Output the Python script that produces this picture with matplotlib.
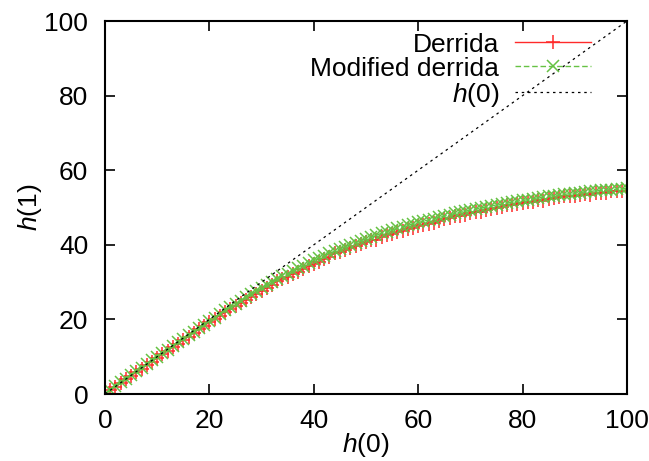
import matplotlib
matplotlib.use("Agg")
import matplotlib.pyplot as plt
import numpy as np

plt.rcParams['font.family'] = ['Liberation Sans', 'DejaVu Sans']
plt.rcParams['mathtext.fontset'] = 'custom'
plt.rcParams['mathtext.rm'] = 'Liberation Sans'
plt.rcParams['mathtext.it'] = 'Liberation Sans:italic'

h0 = list(range(0, 101))
derrida = [0.0, 1.0, 2.0, 2.9, 3.9, 4.9, 5.8, 6.8, 7.8, 8.7,
           9.7, 10.6, 11.6, 12.6, 13.5, 14.5, 15.4, 16.4, 17.3, 18.3,
           19.2, 20.1, 21.0, 21.9, 22.7, 23.6, 24.4, 25.3, 26.1, 26.9,
           27.7, 28.5, 29.3, 30.3, 30.8, 31.5, 32.2, 32.6, 33.6, 34.2,
           34.9, 35.5, 36.2, 36.8, 37.7, 38.0, 38.5, 39.1, 39.6, 40.2,
           40.7, 41.2, 41.4, 42.1, 42.6, 43.0, 43.4, 43.8, 44.2, 44.6,
           45.0, 45.4, 45.7, 45.8, 46.4, 46.8, 47.1, 47.7, 47.8, 48.1,
           48.4, 48.7, 48.7, 49.3, 49.6, 49.9, 50.2, 50.7, 50.7, 50.9,
           51.2, 51.4, 51.6, 51.9, 51.8, 52.3, 52.5, 52.7, 53.2, 53.0,
           53.2, 53.3, 53.5, 53.3, 53.8, 53.9, 54.0, 54.4, 54.3, 54.4,
           54.5]
modified = [0.0, 1.1, 2.1, 3.1, 4.1, 5.1, 6.1, 7.1, 8.0, 9.0,
            10.0, 11.0, 11.9, 12.9, 13.9, 14.8, 15.8, 16.7, 17.7, 18.6,
            19.6, 20.5, 21.4, 22.4, 23.2, 24.1, 25.0, 25.9, 26.7, 27.6,
            28.4, 29.2, 30.0, 30.8, 31.6, 32.3, 33.0, 33.8, 34.4, 35.1,
            35.8, 36.4, 37.1, 37.7, 38.3, 38.9, 39.5, 40.0, 40.6, 41.1,
            41.6, 42.1, 42.6, 43.1, 43.5, 44.0, 44.4, 44.8, 45.2, 45.6,
            46.0, 46.3, 46.7, 47.0, 47.4, 47.7, 48.0, 48.4, 48.7, 49.0,
            49.3, 49.6, 49.9, 50.1, 50.4, 50.7, 50.9, 51.2, 51.4, 51.7,
            51.9, 52.1, 52.4, 52.6, 52.8, 53.0, 53.2, 53.4, 53.5, 53.7,
            53.9, 54.0, 54.2, 54.3, 54.5, 54.6, 54.7, 54.8, 54.9, 55.0,
            55.1]
diag_x = [0, 100]
diag_y = [0, 100]

xticks = [0, 20, 40, 60, 80, 100]
yticks = [0, 20, 40, 60, 80, 100]

FS = 19

fig = plt.figure(figsize=(6.49, 4.61), dpi=100)
ax = fig.add_axes([105/649, 67/461, 522/649, 373/461])

ax.plot(h0, derrida, color='#ff2a2a', lw=1.0, marker='+', ms=9.5, mew=1.1,
        label='Derrida')
ax.plot(h0, modified, color='#66c244', lw=1.0, ls=(0, (4, 2)), marker='x', ms=9, mew=1.1,
        label='Modified derrida')
ax.plot(diag_x, diag_y, color='black', lw=0.9, ls=(0, (2, 3)), label=r'$h$(0)')

ax.set_xlim(0, 100)
ax.set_ylim(0, 100)
ax.set_xticks(xticks)
ax.set_yticks(yticks)
ax.tick_params(direction='in', length=7, width=1.2, labelsize=FS,
               top=True, right=True)
ax.tick_params(axis='x', pad=11)
ax.tick_params(axis='y', pad=12)
for s in ax.spines.values():
    s.set_linewidth(1.5)

ax.set_xlabel(r'$h$(0)', fontsize=FS, labelpad=-2)
ax.set_ylabel(r'$h$(1)', fontsize=FS, labelpad=0)

leg = ax.legend(loc='upper right', frameon=False, markerfirst=False, fontsize=FS,
                handlelength=2.9, handletextpad=0.6, labelspacing=0.0,
                borderaxespad=0.0, borderpad=0.3, bbox_to_anchor=(0.947, 0.99))
for t in leg.get_texts():
    t.set_ha('right')

fig.savefig('out.png', dpi=100)
